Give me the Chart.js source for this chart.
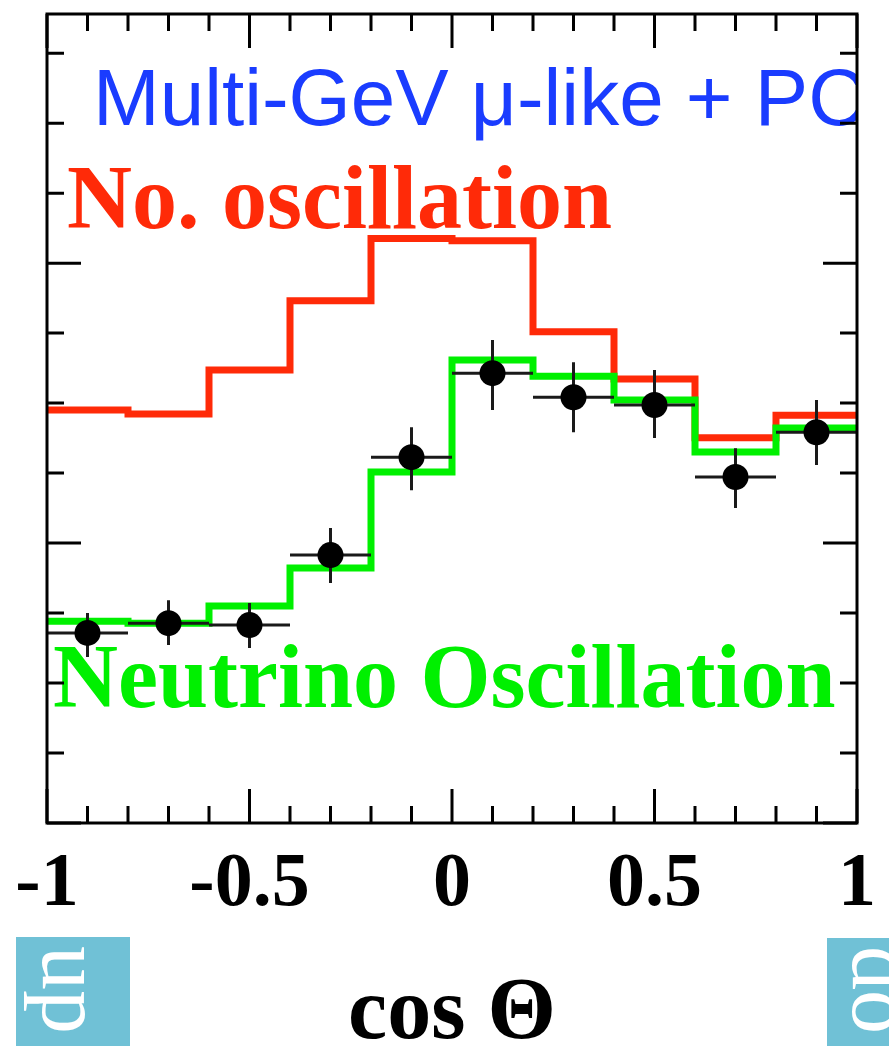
<!DOCTYPE html>
<html>
<head>
<meta charset="utf-8">
<script src="https://cdn.jsdelivr.net/npm/chart.js@4.4.1/dist/chart.umd.min.js"></script>
<style>
	html, body { margin: 0; padding: 0; background: #ffffff; }
	#wrap { width: 889px; height: 1046px; }
</style>
</head>
<body>
<div id="wrap"><canvas id="cosChart" width="889" height="1046"></canvas></div>
<script>
	// Bins in cos(theta), width 0.2
	var binEdges = [-1, -0.8, -0.6, -0.4, -0.2, 0, 0.2, 0.4, 0.6, 0.8, 1];
	var binCenters = [-0.9, -0.7, -0.5, -0.3, -0.1, 0.1, 0.3, 0.5, 0.7, 0.9];

	// Monte Carlo expectations (arbitrary units)
	var noOscValues = [147.5, 146.1, 161.8, 186.6, 208.8, 208.0, 175.5, 158.6, 137.6, 145.7];
	var oscValues = [72.1, 71.4, 77.5, 91.1, 125.4, 165.4, 159.6, 151.1, 132.5, 141.1];

	// Data points and their error bars
	var dataValues = [67.9, 71.4, 70.7, 95.7, 130.7, 160.7, 152.1, 149.3, 123.6, 139.6];
	var errUp = [7.1, 8.2, 7.9, 9.7, 10.7, 11.8, 12.5, 12.5, 10.3, 11.5];
	var errDown = [8.6, 7.8, 8.2, 10.0, 11.8, 13.2, 12.5, 11.8, 11.1, 11.7];

	// Axis
	var xTickValues = [-1, -0.5, 0, 0.5, 1];
	var xTickLabels = ['-1', '-0.5', '0', '0.5', '1'];
	var yMax = 289;

	var RED = '#ff2a08';
	var GREEN = '#00f000';
	var BLUE = '#1a3cff';

	//Turn bin values into points for a stepped line
	function stepPoints(values)
	{
		var pts = [];
		for (var i = 0; i < values.length; i++)
		{
			pts.push({x: binEdges[i], y: values[i]});
		}
		pts.push({x: binEdges[binEdges.length - 1], y: values[values.length - 1]});
		return pts;
	}

	var dataPoints = binCenters.map(function(c, i) { return {x: c, y: dataValues[i]}; });

	//Error bars, drawn just before the data points
	var errorBarPlugin = {
		id: 'errorBars',
		beforeDatasetDraw: function(chart, args)
		{
			if (args.index !== 2) return;
			var ctx = chart.ctx, xs = chart.scales.x, ys = chart.scales.y;
			ctx.save();
			ctx.strokeStyle = '#1a1a1a';
			ctx.lineWidth = 3;
			for (var i = 0; i < binCenters.length; i++)
			{
				var px = xs.getPixelForValue(binCenters[i]);
				var py = ys.getPixelForValue(dataValues[i]);
				ctx.beginPath();
				ctx.moveTo(xs.getPixelForValue(binEdges[i]), py);
				ctx.lineTo(xs.getPixelForValue(binEdges[i + 1]), py);
				ctx.moveTo(px, ys.getPixelForValue(dataValues[i] + errUp[i]));
				ctx.lineTo(px, ys.getPixelForValue(dataValues[i] - errDown[i]));
				ctx.stroke();
			}
			ctx.restore();
		}
	};

	//Labels inside the frame
	var labelPlugin = {
		id: 'plotLabels',
		beforeDatasetsDraw: function(chart)
		{
			var ctx = chart.ctx, a = chart.chartArea;
			ctx.save();
			ctx.beginPath();
			ctx.rect(a.left, a.top, a.right - a.left, a.bottom - a.top);
			ctx.clip();
			ctx.textAlign = 'left';
			ctx.textBaseline = 'alphabetic';

			ctx.fillStyle = BLUE;
			ctx.font = '80px "Liberation Sans", Arial, sans-serif';
			ctx.fillText('Multi-GeV \u03BC-like + PC', 93, 125);

			ctx.fillStyle = RED;
			ctx.font = 'bold 90px "Liberation Serif", "Times New Roman", serif';
			ctx.fillText('No. oscillation', 67, 228);

			ctx.fillStyle = GREEN;
			ctx.fillText('Neutrino Oscillation', 53, 707);
			ctx.restore();
		}
	};

	//Frame, inward ticks, tick labels, axis title and the slide tabs
	var framePlugin = {
		id: 'frame',
		afterDraw: function(chart)
		{
			var ctx = chart.ctx, a = chart.chartArea, xs = chart.scales.x, ys = chart.scales.y;
			var minorLen = 17, majorLen = 34;
			ctx.save();
			ctx.strokeStyle = '#000';
			ctx.lineWidth = 3;
			ctx.strokeRect(a.left, a.top, a.right - a.left, a.bottom - a.top);

			ctx.beginPath();
			for (var k = -10; k <= 10; k++)
			{
				var px = xs.getPixelForValue(k / 10);
				var len = (k % 5 === 0) ? majorLen : minorLen;
				ctx.moveTo(px, a.bottom);
				ctx.lineTo(px, a.bottom - len);
				ctx.moveTo(px, a.top);
				ctx.lineTo(px, a.top + len);
			}
			for (var v = 0; v <= yMax; v += 25)
			{
				var py = ys.getPixelForValue(v);
				var len2 = (v % 100 === 0) ? majorLen : minorLen;
				ctx.moveTo(a.left, py);
				ctx.lineTo(a.left + len2, py);
				ctx.moveTo(a.right, py);
				ctx.lineTo(a.right - len2, py);
			}
			ctx.stroke();

			ctx.fillStyle = '#000';
			ctx.textAlign = 'center';
			ctx.textBaseline = 'alphabetic';
			ctx.font = 'bold 76px "Liberation Serif", "Times New Roman", serif';
			for (var t = 0; t < xTickValues.length; t++)
			{
				ctx.fillText(xTickLabels[t], xs.getPixelForValue(xTickValues[t]), 905);
			}

			ctx.font = 'bold 88px "Liberation Serif", "Times New Roman", serif';
			ctx.fillText('cos \u0398', (a.left + a.right) / 2, 1038);

			// slide tabs under the plot
			ctx.fillStyle = '#70c1d6';
			ctx.fillRect(16, 937, 114, 109);
			ctx.fillRect(827, 938, 62, 108);
			ctx.fillStyle = '#ffffff';
			ctx.textAlign = 'left';
			ctx.font = '88px "Liberation Serif", "Times New Roman", serif';
			ctx.save();
			ctx.translate(43, 946);
			ctx.rotate(Math.PI / 2);
			ctx.fillText('up', 0, 0);
			ctx.restore();
			ctx.save();
			ctx.beginPath();
			ctx.rect(827, 938, 62, 108);
			ctx.clip();
			ctx.translate(853, 946);
			ctx.rotate(Math.PI / 2);
			ctx.fillText('do', 0, 0);
			ctx.restore();
			ctx.restore();
		}
	};

	var ctx = document.getElementById('cosChart').getContext('2d');

	var cosChart = new Chart(ctx, {
		type: 'scatter',
		data: {
			datasets: [
				{
					label: 'No oscillation',
					type: 'line',
					data: stepPoints(noOscValues),
					stepped: 'before',
					borderColor: RED,
					borderWidth: 7,
					borderJoinStyle: 'miter',
					pointRadius: 0,
					fill: false,
					order: 3
				},
				{
					label: 'Neutrino oscillation',
					type: 'line',
					data: stepPoints(oscValues),
					stepped: 'before',
					borderColor: GREEN,
					borderWidth: 7,
					borderJoinStyle: 'miter',
					pointRadius: 0,
					fill: false,
					order: 2
				},
				{
					label: 'Data',
					data: dataPoints,
					pointRadius: 13,
					pointBackgroundColor: '#000',
					pointBorderWidth: 0,
					order: 1
				}
			]
		},
		options: {
			responsive: false,
			animation: false,
			layout: {
				padding: {left: 47, right: 32, top: 14, bottom: 223}
			},
			plugins: {
				legend: {display: false},
				tooltip: {enabled: false}
			},
			scales: {
				x: {type: 'linear', min: -1, max: 1, display: false},
				y: {type: 'linear', min: 0, max: yMax, display: false}
			}
		},
		plugins: [labelPlugin, errorBarPlugin, framePlugin]
	});
</script>
</body>
</html>
